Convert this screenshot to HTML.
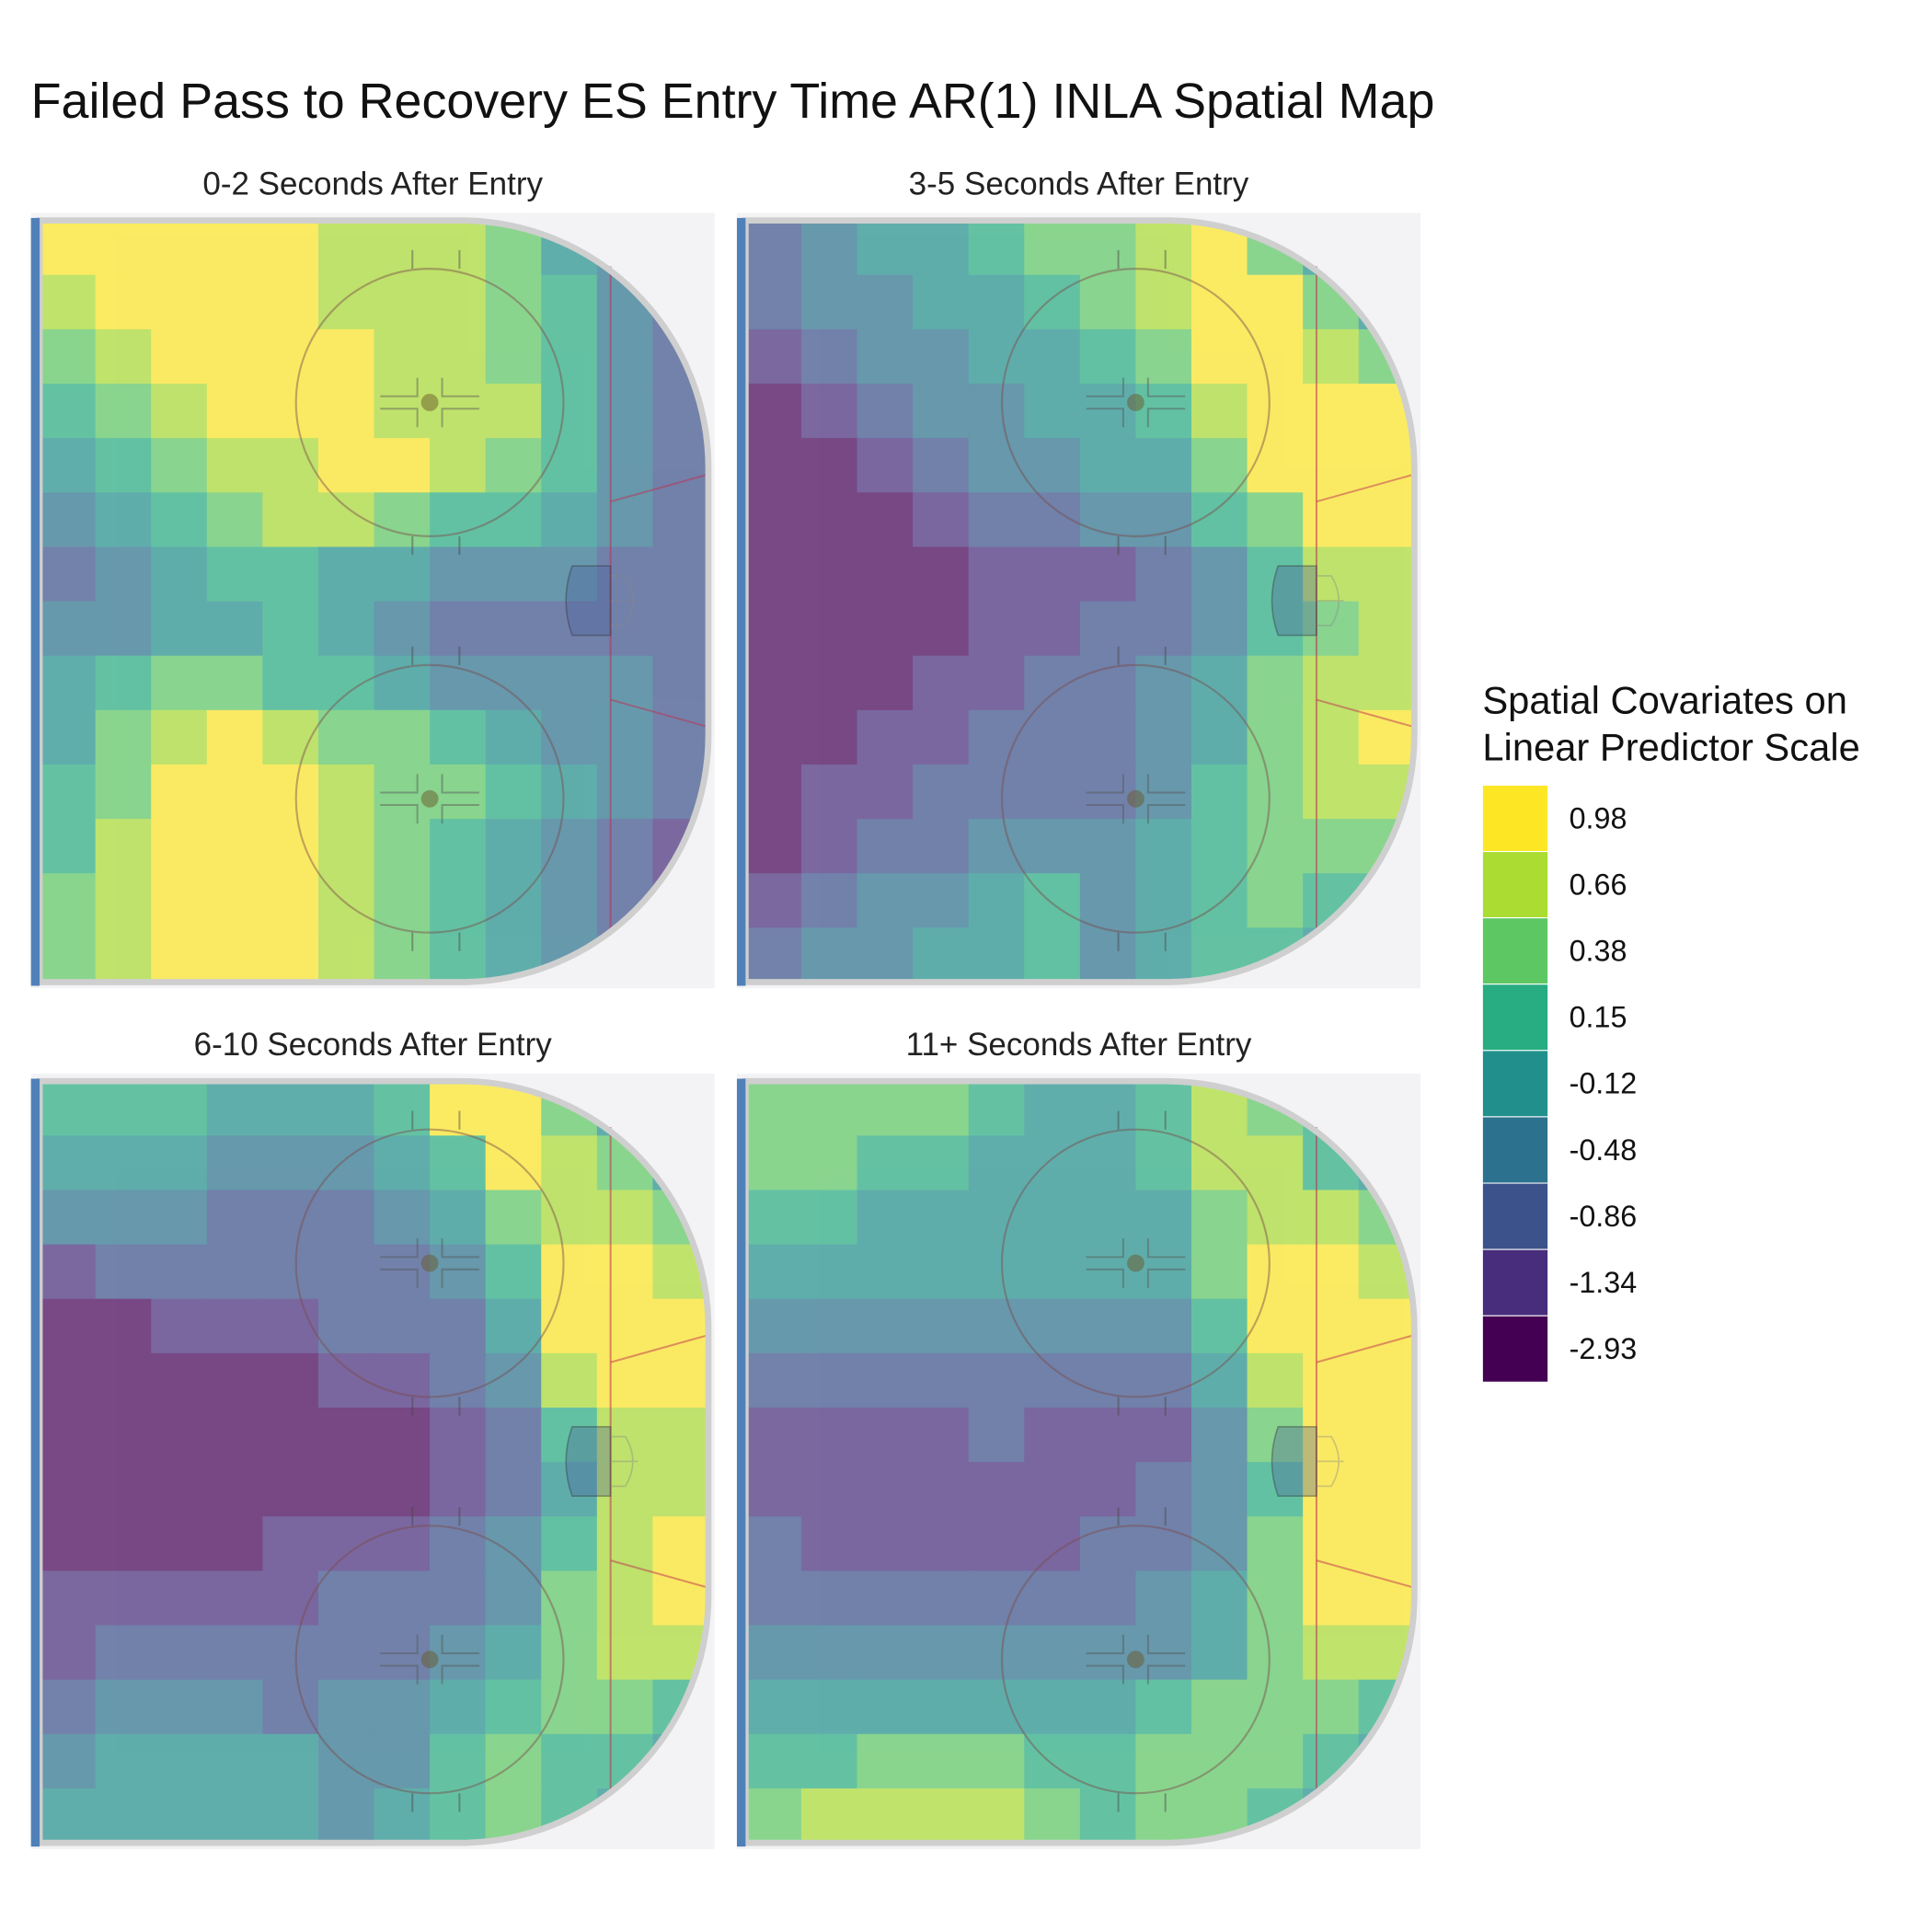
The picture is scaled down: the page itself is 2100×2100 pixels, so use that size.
<!DOCTYPE html>
<html><head><meta charset="utf-8">
<style>html,body{margin:0;padding:0;background:#fff}svg{display:block}</style>
</head><body>
<svg id="chart" xmlns="http://www.w3.org/2000/svg" width="2100" height="2100" viewBox="0 0 1560 1560" font-family="Liberation Sans, Arial, sans-serif">
<rect width="1560" height="1560" fill="#fff"/>
<text x="25" y="95" font-size="40" fill="#111">Failed Pass to Recovery ES Entry Time AR(1) INLA Spatial Map</text>
<g id="panels"></g>
<g id="legend">
<text x="1197" y="576" font-size="31" fill="#111">Spatial Covariates on</text>
<text x="1197" y="614" font-size="31" fill="#111">Linear Predictor Scale</text>
</g>
</svg>
<script>
const levelLabels = ["-2.93","-1.34","-0.86","-0.48","-0.12","0.15","0.38","0.66","0.98"];
const levelColors = ["#440154","#472D7B","#3B528B","#2C728E","#21908C","#27AD81","#5DC863","#AADC32","#FDE725"];
const panelTitles = ["0-2 Seconds After Entry","3-5 Seconds After Entry","6-10 Seconds After Entry","11+ Seconds After Entry"];
const grid0 = [
[8,8,8,8,8,7,7,7,6,4,3,1],
[7,8,8,8,8,7,7,7,6,5,3,2],
[6,7,8,8,8,8,7,7,6,5,3,2],
[5,6,7,8,8,8,7,7,7,5,3,2],
[4,5,6,7,7,8,8,7,6,5,3,2],
[3,4,5,6,7,7,6,5,5,4,3,2],
[2,3,4,5,5,4,4,3,3,3,2,2],
[3,3,4,4,5,4,3,2,2,2,2,2],
[4,5,6,6,5,5,4,3,3,3,3,2],
[4,6,7,8,7,6,6,5,4,3,3,2],
[5,6,8,8,8,7,6,6,5,4,3,2],
[5,7,8,8,8,7,6,5,4,3,2,1],
[6,7,8,8,8,7,6,5,4,3,2,1],
[6,7,8,8,8,7,6,5,4,3,2,1]];
const grid1 = [
[2,3,4,4,5,6,6,7,8,6,4,3],
[2,3,3,4,4,5,6,7,8,8,6,4],
[1,2,3,3,4,4,5,6,8,8,7,6],
[0,1,2,3,3,4,4,5,7,8,8,8],
[0,0,1,2,3,3,4,4,6,8,8,8],
[0,0,0,1,2,2,3,3,5,6,8,8],
[0,0,0,0,1,1,1,2,3,5,7,7],
[0,0,0,0,1,1,2,2,3,5,6,7],
[0,0,0,1,1,2,2,3,4,6,7,7],
[0,0,1,1,2,2,2,3,4,6,7,8],
[0,1,1,2,2,2,2,3,5,6,7,7],
[0,1,2,2,3,3,3,4,5,6,6,6],
[1,2,3,3,4,5,3,4,5,6,5,5],
[2,3,3,4,4,5,3,4,5,5,4,4]];
const grid2 = [
[5,5,5,4,4,4,5,8,8,6,4,3],
[4,4,4,3,3,3,4,5,8,7,6,4],
[3,3,3,2,2,2,3,4,6,7,7,6],
[1,2,2,2,2,2,2,3,5,8,8,7],
[0,0,1,1,1,2,2,2,4,8,8,8],
[0,0,0,0,0,1,1,2,3,7,8,8],
[0,0,0,0,0,0,0,1,2,5,7,7],
[0,0,0,0,0,0,0,1,2,4,7,7],
[0,0,0,0,1,1,1,2,3,5,7,8],
[1,1,1,1,1,2,2,2,3,6,7,8],
[1,2,2,2,2,2,2,3,4,6,7,7],
[2,3,3,3,2,3,3,4,5,6,6,5],
[3,4,4,4,4,3,3,5,6,5,5,4],
[4,4,4,4,4,3,4,5,6,5,4,3]];
const grid3 = [
[6,6,6,6,5,4,4,5,7,6,5,3],
[6,6,5,5,4,4,4,5,7,7,5,4],
[5,5,4,4,4,4,4,4,6,7,7,6],
[4,4,4,4,4,4,4,4,6,8,8,7],
[3,3,3,3,3,3,3,3,5,8,8,8],
[2,2,2,2,2,2,2,2,4,7,8,8],
[1,1,1,1,2,1,1,1,3,6,8,8],
[1,1,1,1,1,1,1,2,3,5,8,8],
[2,1,1,1,1,1,2,2,3,6,8,8],
[2,2,2,2,2,2,2,3,4,6,8,8],
[3,3,3,3,3,3,3,3,4,6,7,7],
[4,4,4,4,4,4,4,5,6,6,6,5],
[5,5,6,6,6,5,5,6,6,6,5,4],
[6,7,7,7,7,6,5,6,6,5,4,3]];
const grids = [grid0, grid1, grid2, grid3];

const NS = "http://www.w3.org/2000/svg";
function mk(tag, attrs, parent){const e=document.createElementNS(NS,tag);for(const k in attrs)e.setAttribute(k,attrs[k]);if(parent)parent.appendChild(e);return e;}
const panelsG = document.getElementById('panels');
const offsets = [[0,0],[570,0],[0,695],[570,695]];
const x0=32, x1=572, y0=178, y1=793;
const rinkPath = "M32,178 H372 A200,200 0 0 1 572,378 V593 A200,200 0 0 1 372,793 H32 Z";
const defs = mk('defs',{},panelsG);
const cp = mk('clipPath',{id:'rinkclip'},defs);
mk('path',{d:rinkPath},cp);

grids.forEach((grid,p)=>{
  const [ox,oy]=offsets[p];
  const g = mk('g',{transform:`translate(${ox},${oy})`},panelsG);
  
  
  const title = mk('text',{x:301,y:157,'font-size':26,'text-anchor':'middle',fill:'#222'},g);
  title.textContent = panelTitles[p];
  
  
  const bg = mk('rect',{x:25,y:172,width:552,height:626,fill:'#f3f3f6'},g);
  
  
  const rows = grid.length, cols = grid[0].length;
  const cw=(x1-x0)/cols, ch=(y1-y0)/rows;
  const hg = mk('g',{'clip-path':'url(#rinkclip)',opacity:0.7},g);
  
  
  for(let r=0;r<rows;r++)for(let c=0;c<cols;c++){
    const cell = mk('rect',{x:(x0+c*cw).toFixed(2),y:(y0+r*ch).toFixed(2),width:(cw+0.6).toFixed(2),height:(ch+0.6).toFixed(2),fill:levelColors[grid[r][c]]},hg);
    
    
  }
  const mg = mk('g',{fill:'none'},g);
  
  
  [[347,325],[347,645]].forEach(([cx,cy])=>{
    mk('circle',{cx,cy,r:108,stroke:'#7a4a4a','stroke-opacity':0.45,'stroke-width':1.6},mg);
    mk('circle',{cx,cy,r:7,fill:'#6a5a2a','fill-opacity':0.5,stroke:'none'},mg);
    mk('path',{d:`M333,${cy-108} v-15 M371,${cy-108} v-15 M333,${cy+108} v15 M371,${cy+108} v15`,stroke:'#444','stroke-opacity':0.45,'stroke-width':1.5},mg);
    mk('path',{d:`M307,${cy-5} h30 v-15 M307,${cy+5} h30 v15 M387,${cy-5} h-30 v-15 M387,${cy+5} h-30 v15`,stroke:'#555','stroke-opacity':0.45,'stroke-width':1.5},mg);
  });
  mk('line',{x1:493,y1:215,x2:493,y2:755,stroke:'#c03050','stroke-opacity':0.55,'stroke-width':1.5},mg);
  mk('path',{d:'M493,405 L572,383 M493,565 L572,587',stroke:'#c03050','stroke-opacity':0.5,'stroke-width':1.5},mg);
  mk('path',{d:'M493,457 H462 Q452,485 462,513 H493 Z',fill:'#4a5f9a','fill-opacity':0.35,stroke:'#333','stroke-opacity':0.4,'stroke-width':1.2},mg);
  mk('path',{d:'M493,465 H505 Q517,485 505,505 H493 M493,485 H515',stroke:'#888','stroke-opacity':0.4,'stroke-width':1.2},mg);
  const border = mk('path',{d:rinkPath,fill:'none',stroke:'#cfcfcf','stroke-width':5},g);
  
  
  const blue = mk('rect',{x:25,y:176,width:7,height:620,fill:'#5080b8'},g);
  
  
});

const lg = document.getElementById('legend');
const keyH = (1116-634)/levelLabels.length;
for(let i=0;i<levelLabels.length;i++){
  const idx = levelLabels.length-1-i;
  const k = mk('rect',{x:1197,y:(634+i*keyH).toFixed(2),width:53,height:keyH.toFixed(2),fill:levelColors[idx],stroke:'#fff','stroke-width':0.8},lg);
  
  
  const t = mk('text',{x:1267,y:(634+i*keyH+keyH/2+8).toFixed(2),'font-size':24,fill:'#111'},lg);
  t.textContent = levelLabels[idx];
  
  
}
</script>
</body></html>
